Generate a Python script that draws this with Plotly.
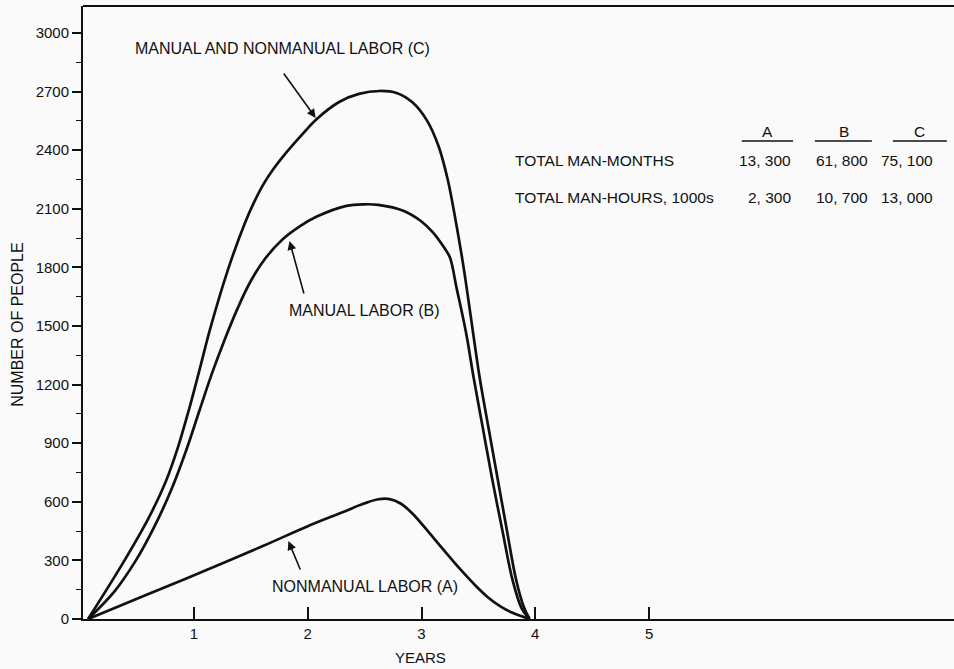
import plotly.graph_objects as go

# ---- data ----
years_a = [0.07, 0.6, 1.1, 1.6, 2.0, 2.3, 2.5, 2.62, 2.72, 2.82, 2.92, 3.07, 3.2, 3.34, 3.46, 3.58, 3.70, 3.80, 3.95]
people_a = [0, 128, 248, 372, 475, 545, 592, 613, 614, 590, 540, 440, 350, 255, 180, 113, 62, 32, 0]

years_b = [0.07, 0.30, 0.49, 0.65, 0.80, 0.93, 1.05, 1.16, 1.27, 1.38, 1.49, 1.62, 1.78, 1.93, 2.08,
           2.34, 2.50, 2.62, 2.84, 3.00, 3.10, 3.20, 3.25, 3.31, 3.39, 3.46, 3.54, 3.62, 3.71, 3.80,
           3.88, 3.95]
people_b = [0, 140, 300, 470, 660, 860, 1070, 1260, 1430, 1585, 1720, 1840, 1944, 2010, 2060,
            2115, 2123, 2120, 2090, 2035, 1979, 1900, 1850, 1690, 1470, 1230, 975, 720, 456, 200,
            55, 0]

years_c = [0.07, 0.39, 0.60, 0.75, 0.86, 0.96, 1.06, 1.14, 1.30, 1.45, 1.53, 1.61, 1.70, 1.80, 1.95,
           2.08, 2.28, 2.45, 2.63, 2.78, 2.92, 3.05, 3.15, 3.23, 3.30, 3.37, 3.44, 3.51, 3.59, 3.67,
           3.75, 3.83, 3.90, 3.95]
people_c = [0, 300, 515, 700, 880, 1080, 1300, 1480, 1790, 2030, 2135, 2225, 2305, 2380, 2480,
            2560, 2648, 2688, 2703, 2693, 2645, 2550, 2420, 2251, 2040, 1800, 1520, 1240, 975, 715,
            456, 205, 60, 0]

x_ticks = [1, 2, 3, 4, 5]
y_ticks = [0, 300, 600, 900, 1200, 1500, 1800, 2100, 2400, 2700, 3000]

table_cols = ["A", "B", "C"]
row_labels = ["TOTAL MAN-MONTHS", "TOTAL MAN-HOURS, 1000s"]
man_months = ["13, 300", "61, 800", "75, 100"]
man_hours = ["2, 300", "10, 700", "13, 000"]

label_a = "NONMANUAL LABOR (A)"
label_b = "MANUAL LABOR (B)"
label_c = "MANUAL AND NONMANUAL LABOR (C)"

FONT = "Liberation Sans, Arial, sans-serif"
INK = "#111111"

fig = go.Figure()
for xs, ys in [(years_a, people_a), (years_b, people_b), (years_c, people_c)]:
    fig.add_trace(go.Scatter(x=xs, y=ys, mode="lines",
                             line=dict(color=INK, width=2.7, shape="spline", smoothing=1.0),
                             showlegend=False, hoverinfo="skip"))

def f(size):
    return dict(family=FONT, size=size, color=INK)

ann = []
# curve labels
ann.append(dict(x=0.465, y=2923, text=label_c, xanchor="left", yanchor="middle", showarrow=False, font=f(16)))
ann.append(dict(x=1.817, y=1577, text=label_b, xanchor="left", yanchor="middle", showarrow=False, font=f(16)))
ann.append(dict(x=1.667, y=164, text=label_a, xanchor="left", yanchor="middle", showarrow=False, font=f(16)))
# arrows
for (hx, hy, tx, ty) in [(2.07, 2565, 1.78, 2800), (1.84, 1935, 1.97, 1659), (1.83, 399, 1.94, 246)]:
    ann.append(dict(x=hx, y=hy, ax=tx, ay=ty, axref="x", ayref="y", text="", showarrow=True,
                    arrowhead=2, arrowsize=1.1, arrowwidth=1.6, arrowcolor=INK))
# table
col_centers = [6.04, 6.71, 7.38]
col_rights = [6.265, 6.94, 7.51]
for c, name in zip(col_centers, table_cols):
    ann.append(dict(x=c, y=2498, text=name, xanchor="center", yanchor="middle", showarrow=False, font=f(15.5)))
ann.append(dict(x=3.80, y=2345, text=row_labels[0], xanchor="left", yanchor="middle", showarrow=False, font=f(15.5)))
ann.append(dict(x=3.80, y=2160, text=row_labels[1], xanchor="left", yanchor="middle", showarrow=False, font=f(15.5)))
for r, v in zip(col_rights, man_months):
    ann.append(dict(x=r, y=2345, text=v, xanchor="right", yanchor="middle", showarrow=False, font=f(15.5)))
for r, v in zip(col_rights, man_hours):
    ann.append(dict(x=r, y=2160, text=v, xanchor="right", yanchor="middle", showarrow=False, font=f(15.5)))
for a in ann:
    a.setdefault("xref", "x")
    a.setdefault("yref", "y")
# axis titles (paper coordinates so they are drawn outside the plot area)
ann.append(dict(xref="paper", yref="paper", x=0.388, y=-0.062, text="YEARS", xanchor="center",
                yanchor="middle", showarrow=False, font=f(15)))
ann.append(dict(xref="paper", yref="paper", x=-0.0746, y=0.480, text="NUMBER OF PEOPLE", textangle=-90,
                xanchor="center", yanchor="middle", showarrow=False, font=f(16)))

shapes = []
for (x0, x1) in [(5.815, 6.265), (6.457, 6.958), (7.143, 7.617)]:
    shapes.append(dict(type="line", xref="x", yref="y", x0=x0, x1=x1, y0=2447, y1=2447,
                       line=dict(color=INK, width=1.6)))
# top frame line
shapes.append(dict(type="line", xref="paper", yref="paper", x0=0, x1=1, y0=1, y1=1,
                   line=dict(color=INK, width=2)))

fig.update_layout(
    width=954, height=669,
    margin=dict(l=83, r=0, t=6, b=50),
    paper_bgcolor="#fafafa", plot_bgcolor="#fafafa",
    font=f(15),
    annotations=ann,
    shapes=shapes,
    xaxis=dict(range=[0.025, 7.68], tickvals=x_ticks, ticks="inside", ticklen=12, tickwidth=1.5,
               tickcolor=INK, showline=True, linecolor=INK, linewidth=2,
               showgrid=False, zeroline=False, tickfont=f(15)),
    yaxis=dict(range=[0, 3138], tickvals=y_ticks, ticks="outside", ticklen=9, tickwidth=1.5,
               tickcolor=INK, showline=True, linecolor=INK, linewidth=2, showgrid=False,
               zeroline=False, tickfont=f(15),
               minor=dict(ticks="outside", ticklen=5, tickwidth=1.2, tickcolor=INK, dtick=150,
                          tick0=0, showgrid=False)),
)

fig.write_html("out.html")
